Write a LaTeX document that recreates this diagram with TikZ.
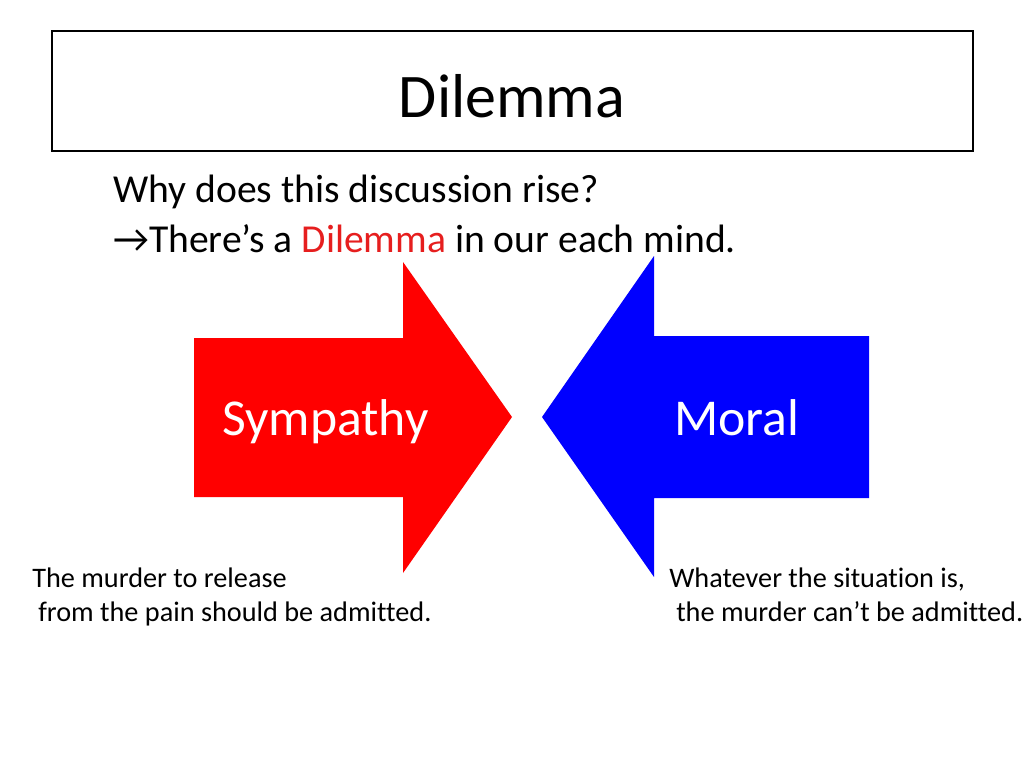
\documentclass[tikz,border=0pt]{standalone}
\usepackage{fontspec}
\setmainfont{Carlito}[RawFeature=-liga]
\definecolor{arrred}{RGB}{255,0,0}
\definecolor{arrblue}{RGB}{0,0,255}
\definecolor{dilred}{RGB}{230,30,30}
\tikzset{
  px/.style={x=0.75pt,y=-0.75pt},
  titletext/.style={font=\fontsize{46.5}{50}\selectfont, inner sep=0pt, anchor=base},
  bodytext/.style={font=\fontsize{29.7}{36}\selectfont, inner sep=0pt, anchor=base west},
  arrowtext/.style={font=\fontsize{38.8}{44}\selectfont, text=white, inner sep=0pt, anchor=base west},
  smalltext/.style={font=\fontsize{21.2}{25}\selectfont, inner sep=0pt, anchor=base west},
}
\begin{document}
\begin{tikzpicture}[px]
\useasboundingbox (0,0) rectangle (1024,768);
\fill[white] (0,0) rectangle (1024,768);
% title box
\node[draw=black, line width=0.8pt, minimum width=921*0.75pt, minimum height=120*0.75pt, inner sep=0pt] (titlebox) at (512.5,91) {};
\node[titletext] (title) at (512,117) {Dilemma};
% body
\node[bodytext] (line1) at (113,202) {Why does this discussion rise?};
\node[bodytext] (line2) at (113,252) {→There’s a \textcolor{dilred}{Dilemma} in our each mind.};
% red arrow
\fill[arrred] (194,338) -- (403,338) -- (403,262) -- (512,417) -- (403,573) -- (403,497) -- (194,497) -- cycle;
% blue arrow
\fill[arrblue] (869,336) -- (654,336) -- (654,256) -- (542,417) -- (654,577) -- (654,498) -- (869,498) -- cycle;
\node[arrowtext] (sym) at (222,435) {Sympathy};
\node[arrowtext] (moral) at (674,435) {Moral};
% captions
\node[smalltext] (l1) at (32,587) {The murder to release};
\node[smalltext] (l2) at (38,621) {from the pain should be admitted.};
\node[smalltext] (r1) at (669,587) {Whatever the situation is,};
\node[smalltext] (r2) at (676,621) {the murder can’t be admitted.};
\end{tikzpicture}
\end{document}
